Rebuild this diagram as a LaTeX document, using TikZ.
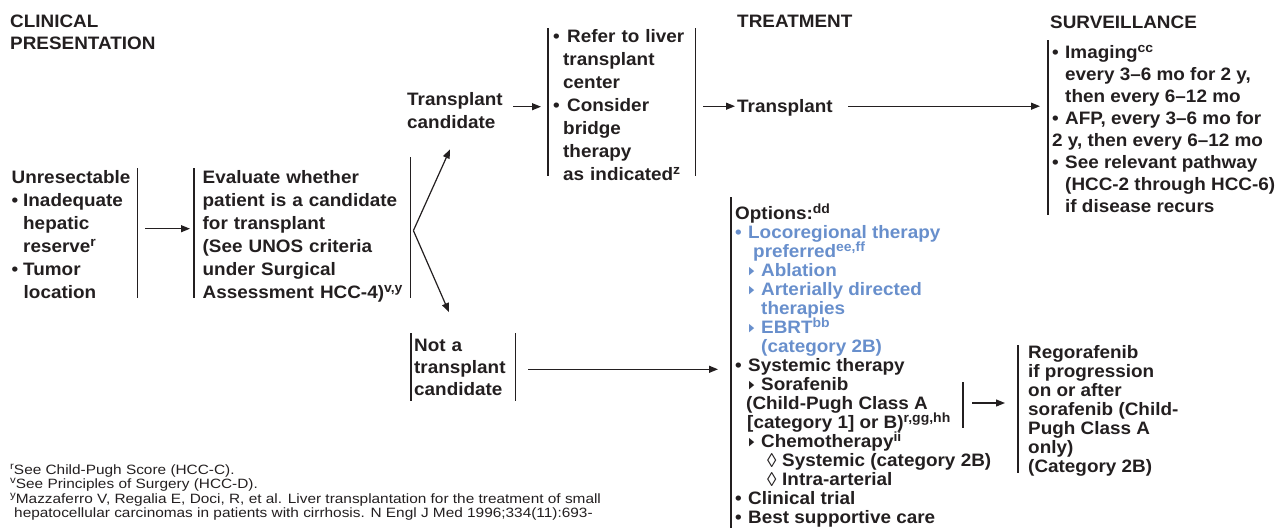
\documentclass[tikz,border=0pt]{standalone}
\usepackage{fontspec}
\setmainfont{Liberation Sans}[FakeStretch=1.05]
\newfontfamily\notefont{Liberation Sans}[FakeStretch=1.14]
\newfontfamily\symfont{DejaVu Sans}
\usepackage{tikz}
\usetikzlibrary{arrows.meta}

\definecolor{ink}{RGB}{35,31,32}
\definecolor{optblue}{RGB}{104,143,204}
\newcommand\supmark[1]{\smash{\raisebox{0.36em}{\scalebox{0.74}{#1}}}}
\newcommand\bul[1][13pt]{\makebox[#1][l]{•}}
\newcommand\trimark{\makebox[12pt][l]{\raisebox{0.12em}{\scalebox{0.38}[0.62]{\symfont ▶}}}}
\newcommand\lozmark{\makebox[15pt][l]{\smash{\raisebox{-0.04em}{\scalebox{1}[1.1]{\mdseries ◊}}}}}
\newcommand\lblue{\color{optblue}}
\lineskiplimit=-100pt

\begin{document}
\begin{tikzpicture}[
    x=1pt, y=-1pt,
    every node/.style = {
      inner sep=0pt,
      anchor=north west,
      align=left,
      text=ink
    },
    list/.style = {font=\bfseries\fontsize{18}{22}\selectfont},
    body/.style = {font=\bfseries\fontsize{18}{23}\selectfont},
    tight/.style = {font=\bfseries\fontsize{18}{19}\selectfont},
    note/.style = {font=\notefont\fontsize{13.5}{14.6}\selectfont},
    bar/.style = {draw=ink, line width=1.2pt},
    arrow/.style = {
      draw=ink,
      line width=1.2pt,
      -{Triangle[length=9pt,width=7pt]}
    }
  ]
  \useasboundingbox (0,0) rectangle (1278,528);

  % Column heads
  \node[list] (clinical) at (10, 12.1) {\strut CLINICAL\\PRESENTATION\strut};
  \node[list] (treatment) at (737, 12.1) {\strut TREATMENT\strut};
  \node[list] (surveillance) at (1050, 13.1) {\strut SURVEILLANCE\strut};

  % Presentation and evaluation
  \node[body, text width=125.5pt] (unresect) at (11.5, 167.4)
    {\strut Unresectable\\\bul[11.5pt]Inadequate\\\hspace*{11.5pt}hepatic\\\hspace*{11.5pt}reserve\supmark{r}\\\bul[11.5pt]Tumor\\\hspace*{12pt}location\strut};
  \node[body, text width=207.5pt] (evaluate) at (202.5, 167.4)
    {\strut Evaluate whether\\patient is a candidate\\for transplant\\(See UNOS criteria\\under Surgical\\Assessment HCC-4)\supmark{v,y}\strut};

  % Transplant branch
  \node[body, text width=100pt] (transcand) at (407, 89.4) {\strut Transplant\\candidate\strut};
  \node[body, text width=142pt] (refer) at (553, 26.4)
    {\strut\bul[14pt]Refer to liver\\\hspace*{10pt}transplant\\\hspace*{10pt}center\\\bul[14pt]Consider\\\hspace*{10pt}bridge\\\hspace*{10pt}therapy\\\hspace*{10pt}as indicated\supmark{z}\strut};
  \node[body, text width=100pt] (transplant) at (737, 96.4) {\strut Transplant\strut};
  \node[list] (surv) at (1052, 43.1)
    {\strut\bul Imaging\supmark{cc}\\\hspace*{13pt}every 3–6 mo for 2 y,\\\hspace*{13pt}then every 6–12 mo\\\bul AFP, every 3–6 mo for\\2 y, then every 6–12 mo\\\bul See relevant pathway\\\hspace*{13pt}(HCC-2 through HCC-6)\\\hspace*{13pt}if disease recurs\strut};

  % Non-transplant branch
  \node[list, text width=101pt] (notcand) at (414, 336.1) {\strut Not a\\transplant\\candidate\strut};
  \node[tight] (options) at (735, 206.2)
    {\strut Options:\supmark{dd}\\
     \lblue\bul Locoregional therapy\\
     \lblue\hspace*{18pt}preferred\supmark{ee,ff}\\
     \lblue\hspace*{14pt}\trimark Ablation\\
     \lblue\hspace*{14pt}\trimark Arterially directed\\
     \lblue\hspace*{26pt}therapies\\
     \lblue\hspace*{14pt}\trimark EBRT\supmark{bb}\\
     \lblue\hspace*{26pt}(category 2B)\\
     \bul Systemic therapy\\
     \hspace*{14pt}\trimark Sorafenib\\
     \hspace*{11pt}(Child-Pugh Class A\\
     \hspace*{12pt}[category 1] or B)\supmark{r,gg,hh}\\
     \hspace*{14pt}\trimark Chemotherapy\supmark{ii}\\
     \hspace*{32pt}\lozmark Systemic (category 2B)\\
     \hspace*{32pt}\lozmark Intra-arterial\\
     \bul Clinical trial\\
     \bul Best supportive care\strut};
  \node[tight] (rego) at (1028, 345.2)
    {\strut Regorafenib\\if progression\\on or after\\sorafenib (Child-\\Pugh Class A\\only)\\(Category 2B)\strut};

  % Footnotes
  \node[note] (notes) at (10, 463.6)
    {\strut\supmark{r}See Child-Pugh Score (HCC-C).\\
     \supmark{v}See Principles of Surgery (HCC-D).\\
     \supmark{y}Mazzaferro V, Regalia E, Doci, R, et al. Liver transplantation for the treatment of small\\
     \hspace*{4pt}hepatocellular carcinomas in patients with cirrhosis. N Engl J Med 1996;334(11):693-\strut};

  % Bars
  \draw[bar] ([yshift=-0.6pt]unresect.north east) -- ([yshift=7.4pt]unresect.south east);
  \draw[bar] ([xshift=-8.5pt,yshift=-0.6pt]evaluate.north west) -- ([xshift=-8.5pt,yshift=7.4pt]evaluate.south west);
  \draw[bar] ([yshift=10.4pt]evaluate.north east) -- ([yshift=7.4pt]evaluate.south east);
  \draw[bar] ([xshift=-5pt,yshift=-1.6pt]refer.north west) -- ([xshift=-5pt,yshift=11.4pt]refer.south west);
  \draw[bar] ([yshift=-1.6pt]refer.north east) -- ([yshift=11.4pt]refer.south east);
  \draw[bar] ([xshift=-4pt,yshift=3.1pt]surv.north west) -- ([xshift=-4pt,yshift=4.1pt]surv.south west);
  \draw[bar] ([xshift=-3pt,yshift=3.1pt]notcand.north west) -- ([xshift=-3pt,yshift=1.1pt]notcand.south west);
  \draw[bar] ([yshift=3.1pt]notcand.north east) -- ([yshift=1.1pt]notcand.south east);
  \draw[bar] ([xshift=-4pt,yshift=9.2pt]options.north west) -- ([xshift=-4pt,yshift=1.2pt]options.south west);
  \draw[bar] ([xshift=-10pt]rego.north west) -- ([xshift=-10pt,yshift=5.2pt]rego.south west);
  \coordinate (sorabar) at ([xshift=228pt,yshift=-198.8pt]options.north west);
  \draw[bar] ([yshift=23pt]sorabar) -- ([yshift=-23pt]sorabar);

  % Arrows
  \coordinate (split) at ([xshift=3pt,yshift=6pt]evaluate.east);
  \draw[arrow] ([xshift=8pt,yshift=7.9pt]unresect.east) -- ([xshift=-12.5pt,yshift=7.9pt]unresect.east -| evaluate.west);
  \draw[arrow] (split) -- ([xshift=43pt,yshift=-13.6pt]transcand.south west);
  \draw[arrow] (split) -- ([xshift=35pt,yshift=24pt]notcand.north west);
  \draw[arrow] ([xshift=6pt,yshift=5.9pt]transcand.east) -- ([xshift=-12pt,yshift=5.9pt]transcand.east -| refer.west);
  \draw[arrow] ([xshift=8pt,yshift=1.9pt]refer.east |- transplant.west) -- ([xshift=-2pt,yshift=1.9pt]transplant.west);
  \draw[arrow] ([xshift=11pt,yshift=1.9pt]transplant.east) -- ([xshift=-12pt,yshift=1.9pt]transplant.east -| surv.west);
  \draw[arrow] ([xshift=13pt]notcand.east) -- ([xshift=-17pt]notcand.east -| options.west);
  \draw[arrow] ([xshift=9pt,yshift=2pt]sorabar) -- ([xshift=-23pt,yshift=2pt]sorabar -| rego.west);

\end{tikzpicture}
\end{document}
